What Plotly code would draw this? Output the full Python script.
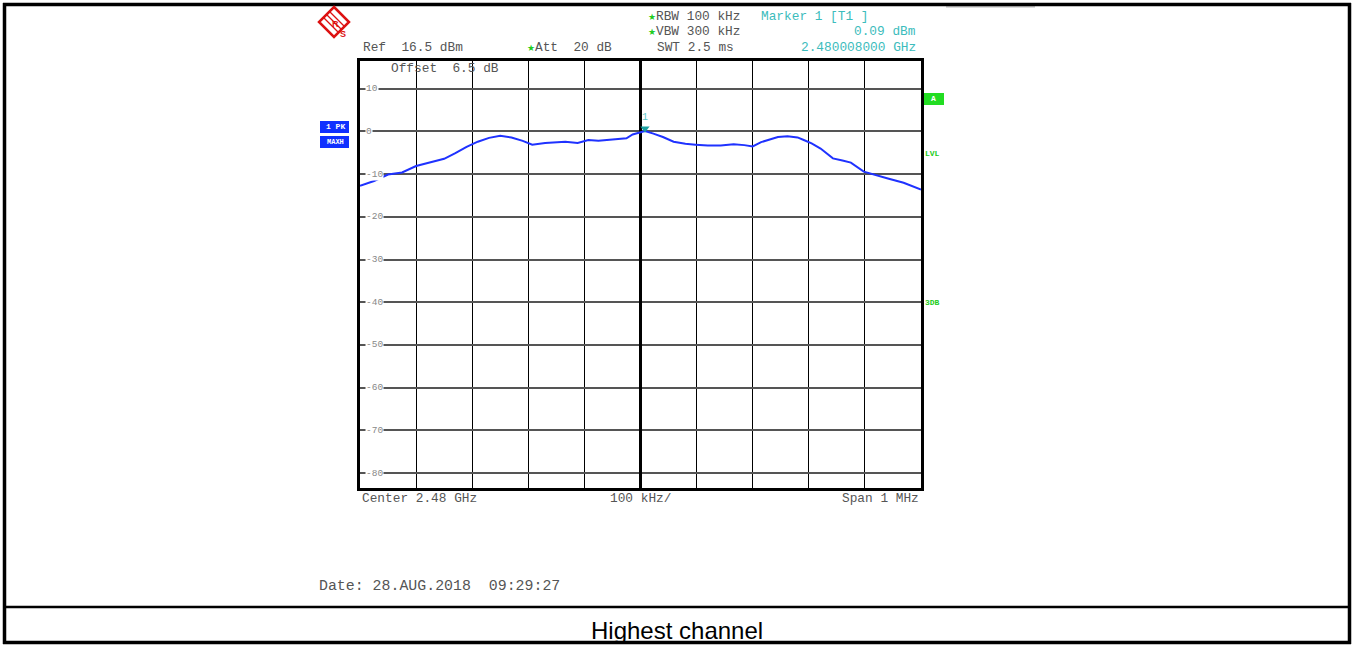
import plotly.graph_objects as go

W, H = 1354, 647

# ---- data ----
freq_khz = [-500,-475,-450,-425,-400,-375,-350,-330,-310,-290,-270,-250,-230,-210,-193,
            -170,-150,-134,-112,-93,-75,-57,-40,-25,-14,0,8,23,40,59,80,98,120,143,166,
            185,200,215,227,245,262,280,291,305,321,343,360,375,398,420,441,469,500]
level_dbm = [-12.7,-11.6,-10.1,-9.6,-8.1,-7.3,-6.4,-5.1,-3.6,-2.4,-1.5,-1.0,-1.4,-2.2,-3.1,
             -2.7,-2.5,-2.4,-2.7,-2.0,-2.2,-2.0,-1.9,-1.6,-0.7,-0.1,0.09,-0.5,-1.3,-2.4,
             -2.9,-3.1,-3.3,-3.3,-3.0,-3.2,-3.5,-2.5,-2.0,-1.3,-1.1,-1.4,-2.0,-2.8,-4.0,
             -6.3,-6.8,-7.3,-9.4,-10.3,-11.0,-12.0,-13.6]
marker_khz = [8]
marker_dbm = [0.09]
y_ticks = [10, 0, -10, -20, -30, -40, -50, -60, -70, -80]
ref_level = 16.5
bottom_level = -83.5


def px(x):
    return x / W


def py(y):
    return 1 - y / H


X0, X1, Y0, Y1 = 360, 921, 61, 488

fig = go.Figure()
fig.add_trace(go.Scatter(x=freq_khz, y=level_dbm, mode="lines",
                         line=dict(color="#1f32ff", width=2), hoverinfo="skip",
                         showlegend=False))
fig.add_trace(go.Scatter(x=marker_khz, y=[marker_dbm[0] + 0.6], mode="markers+text",
                         marker=dict(symbol="triangle-down", size=8, color="#1aa0a0"),
                         text=["1"], textposition="top center",
                         textfont=dict(family="Liberation Mono", size=10, color="#60c8c8"),
                         showlegend=False, hoverinfo="skip"))

mono = "Liberation Mono"
fs = 12.8
gray = "#555555"
cyan = "#3cbcbc"
green = "#22cc22"

ann = []


def txt(x, y, s, color=gray, anchor="left", size=fs, family=mono, bg=None):
    d = dict(x=px(x), y=py(y), xref="paper", yref="paper", text=s, showarrow=False,
             xanchor=anchor, yanchor="middle", borderpad=0,
             font=dict(family=family, size=size, color=color))
    if bg:
        d["bgcolor"] = bg
    ann.append(d)


star = "<span style='color:#22cc22;font-size:9px'>★</span>"
txt(362, 48, "Ref  16.5 dBm")
txt(526, 48, star + "Att  20 dB")
txt(656, 48, "SWT 2.5 ms")
txt(647, 16, star + "RBW 100 kHz")
txt(647, 32, star + "VBW 300 kHz")
txt(760, 16, "Marker 1 [T1 ]", color=cyan)
txt(917, 32, "0.09 dBm", color=cyan, anchor="right")
txt(917, 48, "2.480008000 GHz", color=cyan, anchor="right")
txt(390, 69, "Offset  6.5 dB")
txt(361, 498, "Center 2.48 GHz")
txt(609, 498, "100 kHz/")
txt(920, 498, "Span 1 MHz", anchor="right")
txt(318, 586, "Date: 28.AUG.2018  09:29:27", size=14.9)
txt(677, 630, "Highest channel", color="#000000", anchor="center", size=24,
    family="Liberation Sans")

# in-plot level labels
for v in y_ticks:
    ann.append(dict(x=px(365), y=v, xref="paper", yref="y", text=str(v), showarrow=False,
                    xanchor="left", yanchor="middle", bgcolor="white", borderpad=0,
                    font=dict(family=mono, size=9.5, color="#888888")))

# side labels
ann.append(dict(x=px(335), y=py(127), xref="paper", yref="paper", text="<b>1 PK</b>",
                showarrow=False, font=dict(family=mono, size=8, color="white"),
                xanchor="center", yanchor="middle"))
ann.append(dict(x=px(335), y=py(142), xref="paper", yref="paper", text="<b>MAXH</b>",
                showarrow=False, font=dict(family=mono, size=7, color="white"),
                xanchor="center", yanchor="middle"))
ann.append(dict(x=px(933), y=py(99), xref="paper", yref="paper", text="<b>A</b>",
                showarrow=False, font=dict(family=mono, size=8, color="white"),
                xanchor="center", yanchor="middle"))
txt(924, 153, "<b>LVL</b>", color=green, size=8)
txt(924, 302, "<b>3DB</b>", color=green, size=8)

shapes = []


def rect(x0, y0, x1, y1, fill=None, line=None, lw=0):
    shapes.append(dict(type="rect", xref="paper", yref="paper",
                       x0=px(x0), x1=px(x1), y0=py(y0), y1=py(y1),
                       fillcolor=fill, line=dict(color=line or "rgba(0,0,0,0)", width=lw),
                       layer="below"))


def hline(x0, x1, y, color="black", w=3):
    shapes.append(dict(type="line", xref="paper", yref="paper", x0=px(x0), x1=px(x1),
                       y0=py(y), y1=py(y), line=dict(color=color, width=w)))


def vline(x, y0, y1, color="black", w=3):
    shapes.append(dict(type="line", xref="paper", yref="paper", x0=px(x), x1=px(x),
                       y0=py(y0), y1=py(y1), line=dict(color=color, width=w)))


# outer frame
hline(3, 1351, 4.5, w=3.5)
hline(3, 1351, 642.5, w=3.5)
vline(4.5, 3, 644, w=3.5)
vline(1349.5, 3, 644, w=3.5)
hline(3, 1351, 607, w=2.5)
hline(946, 1035, 6.8, color="#888888", w=1)

# blue / green boxes
rect(320, 121, 349, 133, fill="#1030ff")
rect(320, 136, 349, 148, fill="#1030ff")
rect(923, 93, 944, 105, fill="#22dd22")

# R&S logo (diamond)
cx, cy, r = 334, 22, 15
shapes.append(dict(type="path", xref="paper", yref="paper",
                   path=f"M {px(cx)},{py(cy - r)} L {px(cx + r)},{py(cy)} L {px(cx)},{py(cy + r)} L {px(cx - r)},{py(cy)} Z",
                   fillcolor="white", line=dict(color="#dd1111", width=2.5)))
for k in (-3, 0, 3):
    shapes.append(dict(type="line", xref="paper", yref="paper",
                       x0=px(cx - 8 + k), y0=py(cy - 8 - k), x1=px(cx + 8 + k), y1=py(cy + 8 - k),
                       line=dict(color="#dd1111", width=1.2)))
ann.append(dict(x=px(cx - 4), y=py(cy - 5), xref="paper", yref="paper", text="<b>R</b>",
                showarrow=False, font=dict(family="Liberation Sans", size=9, color="#dd1111")))
ann.append(dict(x=px(cx + 4), y=py(cy + 5), xref="paper", yref="paper", text="<b>S</b>",
                showarrow=False, font=dict(family="Liberation Sans", size=9, color="#dd1111")))

fig.update_layout(
    width=W, height=H, autosize=False,
    margin=dict(l=0, r=0, t=0, b=0),
    paper_bgcolor="white", plot_bgcolor="white",
    annotations=ann, shapes=shapes,
    xaxis=dict(domain=[px(X0), px(X1)], range=[-500, 500], dtick=100, tick0=0,
               showgrid=True, gridcolor="#000000", gridwidth=1,
               zeroline=True, zerolinecolor="#000000", zerolinewidth=2.5,
               showline=True, mirror=True, linecolor="#000000", linewidth=2.5,
               showticklabels=False, ticks="", fixedrange=True),
    yaxis=dict(domain=[py(Y1), py(Y0)], range=[bottom_level, ref_level],
               tickvals=y_ticks, showgrid=True, gridcolor="#555555", gridwidth=1.5,
               zeroline=False,
               showline=True, mirror=True, linecolor="#000000", linewidth=2.5,
               showticklabels=False, ticks="", fixedrange=True),
)

fig.write_html("out.html", config={"displayModeBar": False},
               post_script="document.body.style.margin='0';document.body.style.padding='0';")
